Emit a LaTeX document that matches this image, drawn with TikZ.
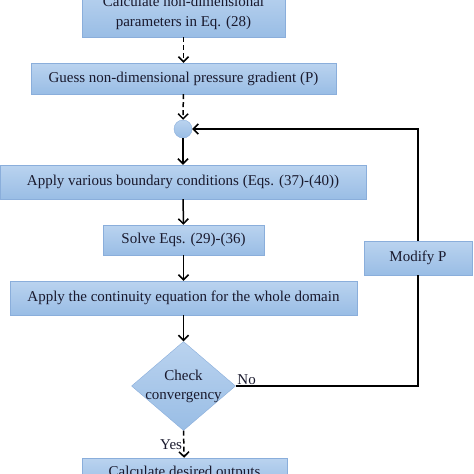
\documentclass[tikz,border=0pt]{standalone}
\usepackage{fontspec}
\setmainfont{Liberation Serif}
\usetikzlibrary{shapes.geometric,arrows.meta}
\definecolor{boxtop}{RGB}{186,211,239}
\definecolor{boxbot}{RGB}{153,189,229}
\definecolor{boxline}{RGB}{138,174,219}
\definecolor{inkc}{RGB}{25,25,45}

\begin{document}
\begin{tikzpicture}[x=1pt,y=-1pt,proc/.style={shape=rectangle,draw=boxline,top color=boxtop,bottom color=boxbot,text=inkc,font=\fontsize{15}{20}\selectfont,inner sep=0pt,align=center},decide/.style={shape=diamond,draw=boxline,top color=boxtop,bottom color=boxbot,inner sep=0pt,minimum width=104pt,minimum height=89pt},flow/.style={line width=1.5pt,-{Straight Barb[length=5pt,width=10pt]}},dflow/.style={flow,dash pattern=on 5pt off 3pt},lbl/.style={text=inkc,font=\fontsize{15}{19}\selectfont,inner sep=1pt}]
\useasboundingbox (0,0) rectangle (474,474);
\node[proc,minimum width=203pt,minimum height=48pt] (calc) at (183.5,13) {Calculate non-dimensional\\parameters in Eq. (28)};
\node[proc,minimum width=305pt,minimum height=31pt] (guess) at (183.5,78.5) {Guess non-dimensional pressure gradient (P)};
\node[shape=circle,draw=boxline,top color=boxtop,bottom color=boxbot,minimum size=18pt,inner sep=0pt] (junc) at (183,129) {};
\node[proc,minimum width=366pt,minimum height=34pt] (bound) at (183,182) {Apply various boundary conditions (Eqs. (37)-(40))};
\node[proc,minimum width=161pt,minimum height=30pt] (solve) at (183.5,240) {Solve Eqs. (29)-(36)};
\node[proc,minimum width=347pt,minimum height=34pt] (cont) at (183.5,298) {Apply the continuity equation for the whole domain};
\node[decide] (conv) at (183.5,386) {};
\node[lbl,align=center] (convtext) at (conv) {Check\\convergency};
\node[proc,minimum width=108pt,minimum height=34pt] (modify) at (418,258) {Modify P};
\node[proc,minimum width=205pt,minimum height=30pt] (output) at (184.5,473) {Calculate desired outputs};
\draw[dflow] (calc) -- (guess);
\draw[dflow] (guess) -- (junc);
\draw[flow] (junc) -- (bound);
\draw[flow] (bound) -- (solve);
\draw[flow] (solve) -- (cont);
\draw[flow] (cont) -- (conv);
\draw[line width=1.5pt] (conv.east) -| node[lbl,pos=0,anchor=south west] {No} (modify.south);
\draw[flow] (modify.north) |- (junc.east);
\draw[dflow] (conv.south) -- node[lbl,left] {Yes} (output);
\end{tikzpicture}
\end{document}
